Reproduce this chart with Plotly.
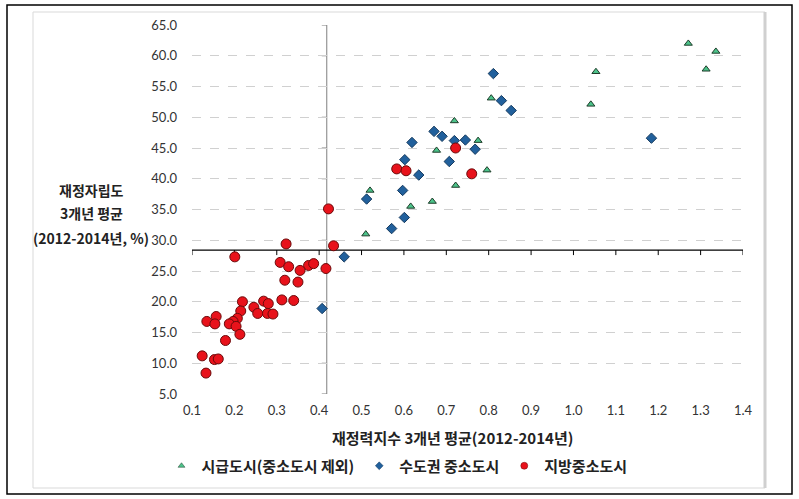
import plotly.graph_objects as go

# ---------------- data ----------------
green_x = [0.510, 0.520, 0.616, 0.667, 0.677, 0.719, 0.722, 0.775, 0.796, 0.806, 1.041, 1.053, 1.271, 1.313, 1.336]
green_y = [31.0, 38.1, 35.5, 36.3, 44.6, 49.4, 38.9, 46.2, 41.4, 53.1, 52.1, 57.4, 62.0, 57.8, 60.7]

blue_x = [0.407, 0.459, 0.512, 0.571, 0.597, 0.601, 0.602, 0.619, 0.635, 0.671, 0.690, 0.707, 0.719, 0.745, 0.768, 0.811, 0.830, 0.853, 1.184]
blue_y = [18.9, 27.3, 36.7, 31.9, 38.1, 33.7, 43.1, 45.9, 40.6, 47.7, 46.9, 42.8, 46.2, 46.3, 44.8, 57.1, 52.7, 51.1, 46.6]

red_x = [0.722, 0.583, 0.605, 0.760, 0.422, 0.322, 0.434, 0.201, 0.308, 0.328, 0.375, 0.387, 0.355, 0.416,
         0.319, 0.350, 0.219, 0.269, 0.280, 0.312, 0.340, 0.246, 0.215, 0.255, 0.278, 0.291, 0.157, 0.135,
         0.154, 0.207, 0.197, 0.188, 0.204, 0.213, 0.179, 0.124, 0.153, 0.162, 0.133]
red_y = [45.0, 41.6, 41.3, 40.8, 35.1, 29.4, 29.1, 27.3, 26.4, 25.7, 25.9, 26.2, 25.1, 25.4,
         23.5, 23.2, 20.0, 20.1, 19.7, 20.3, 20.2, 19.1, 18.5, 18.1, 18.1, 18.0, 17.6, 16.8,
         16.4, 17.3, 16.8, 16.4, 16.0, 14.7, 13.7, 11.2, 10.6, 10.7, 8.4]

series_names = ["시급도시(중소도시 제외)", "수도권 중소도시", "지방중소도시"]
x_title = "재정력지수 3개년 평균(2012-2014년)"
y_title_lines = ["재정자립도", "3개년 평균", "(2012-2014년, %)"]

x_ticks = [round(0.1 + 0.1 * i, 1) for i in range(14)]
y_ticks = [5.0 * i for i in range(1, 14)]
x_cross = 0.418   # value where vertical axis crosses
y_cross = 28.4    # value where horizontal axis crosses

# ---------------- layout helpers ----------------
W, H = 799, 499
L, R, T, B = 192, 743, 25, 394


def px(xp):
    return (xp - L) / (R - L)


def py(yp):
    return (B - yp) / (B - T)


KFONT = "Noto Sans CJK KR"
NFONT = "Lato"

styles = [
    dict(symbol="triangle-up", size=7, color="#4cc38a", line=dict(color="#1e3d2a", width=1)),
    dict(symbol="diamond", size=8, color="#21609c", line=dict(color="#163a5e", width=1)),
    dict(symbol="circle", size=10, color="#e8121b", line=dict(color="#6b0a0a", width=1)),
]
legend_sizes = [6, 6, 7]

fig = go.Figure()
for xs, ys, st in zip([green_x, blue_x, red_x], [green_y, blue_y, red_y], styles):
    fig.add_trace(go.Scatter(x=xs, y=ys, mode="markers", marker=st, showlegend=False))
# legend-only entries with small markers (as in the original legend)
for name, st, ls in zip(series_names, styles, legend_sizes):
    m = dict(st)
    m["size"] = ls
    m["line"] = dict(width=0.5, color=st["line"]["color"])
    fig.add_trace(go.Scatter(x=[None], y=[None], mode="markers", name=name, marker=m))

shapes = []
# frames
shapes.append(dict(type="rect", xref="paper", yref="paper",
                   x0=px(33), x1=px(765), y0=py(488), y1=py(12),
                   line=dict(color="#d9d9d9", width=1), layer="below"))
shapes.append(dict(type="line", xref="paper", yref="paper",
                   x0=px(765), x1=px(765), y0=py(488), y1=py(12),
                   line=dict(color="#d0d0d0", width=3), layer="below"))
shapes.append(dict(type="rect", xref="paper", yref="paper",
                   x0=px(7), x1=px(792), y0=py(494), y1=py(5),
                   line=dict(color="#000000", width=1.5), layer="below"))
# crossing axes
shapes.append(dict(type="line", xref="x", yref="y", x0=x_cross, x1=x_cross,
                   y0=y_ticks[0], y1=y_ticks[-1], line=dict(color="#7f7f7f", width=1), layer="below"))
shapes.append(dict(type="line", xref="x", yref="y", x0=x_ticks[0], x1=x_ticks[-1],
                   y0=y_cross, y1=y_cross, line=dict(color="#000000", width=1.2), layer="below"))
for v in y_ticks:
    shapes.append(dict(type="line", xref="x", yref="y", xsizemode="pixel", xanchor=x_cross,
                       x0=-5, x1=0, y0=v, y1=v, line=dict(color="#7f7f7f", width=1), layer="below"))
for v in x_ticks:
    shapes.append(dict(type="line", xref="x", yref="y", ysizemode="pixel", yanchor=y_cross,
                       y0=0, y1=-5, x0=v, x1=v, line=dict(color="#000000", width=1), layer="below"))

annotations = [dict(text=x_title, xref="paper", yref="paper", x=px(452), y=py(437),
                    xanchor="center", yanchor="middle", showarrow=False,
                    font=dict(family=KFONT, size=15, color="#222222", weight="bold"))]
for i, line in enumerate(y_title_lines):
    annotations.append(dict(text=line, xref="paper", yref="paper", x=px(91), y=py([190, 213, 238][i]),
                            xanchor="center", yanchor="middle", showarrow=False,
                            font=dict(family=KFONT, size=14, color="#222222", weight="bold")))

fig.update_layout(
    width=W, height=H,
    margin=dict(l=L, r=W - R, t=T, b=H - B, pad=0),
    paper_bgcolor="white", plot_bgcolor="white",
    showlegend=True,
    legend=dict(orientation="h", xanchor="center", yanchor="middle",
                x=px(397), y=py(466), itemsizing="trace",
                font=dict(family=KFONT, size=15, color="#222222", weight="bold"),
                itemwidth=30, tracegroupgap=0, bgcolor="rgba(0,0,0,0)"),
    xaxis=dict(range=[x_ticks[0], x_ticks[-1]], tickvals=x_ticks,
               ticktext=[f"{v:.1f}" for v in x_ticks],
               showgrid=False, zeroline=False, showline=False, ticks="", ticklabelstandoff=7,
               tickfont=dict(family=NFONT, size=13, color="#333333")),
    yaxis=dict(range=[y_ticks[0], y_ticks[-1]], tickvals=y_ticks,
               ticktext=[f"{v:.1f}" for v in y_ticks],
               showgrid=True, gridcolor="#d0d0d0", griddash="dash", gridwidth=1,
               zeroline=False, showline=False, ticks="", ticklabelstandoff=14,
               tickfont=dict(family=NFONT, size=13, color="#333333")),
    shapes=shapes,
    annotations=annotations,
)

fig.write_html("out.html")
